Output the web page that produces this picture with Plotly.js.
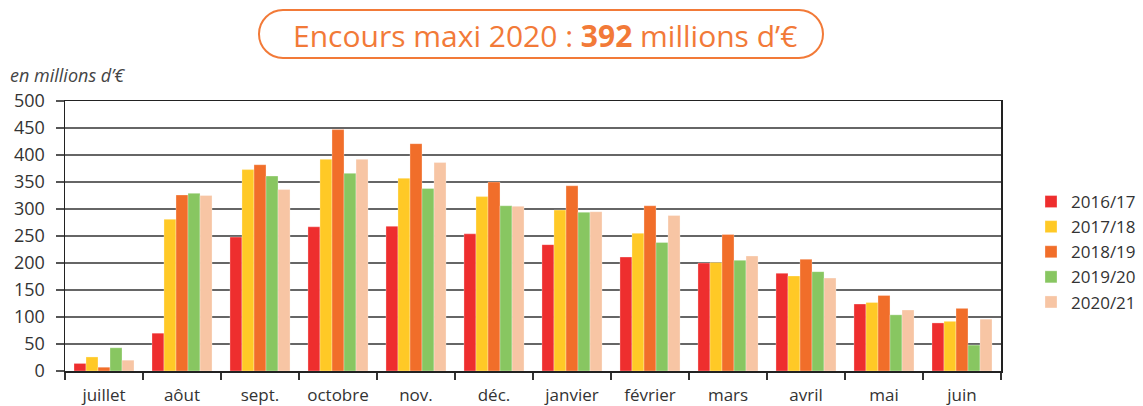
<!DOCTYPE html>
<html>
<head>
<meta charset="utf-8">
<script src="https://cdn.plot.ly/plotly-3.0.1.min.js"></script>
<style>
  html, body { margin: 0; padding: 0; background: #fff; }
  #chart { width: 1143px; height: 406px; }
</style>
</head>
<body>
<div id="chart"></div>
<script>
const months = ["juillet", "aôut", "sept.", "octobre", "nov.", "déc.", "janvier", "février", "mars", "avril", "mai", "juin"];
const seriesNames = ["2016/17", "2017/18", "2018/19", "2019/20", "2020/21"];
const s2016 = [14, 70, 248, 267, 268, 254, 234, 211, 200, 181, 124, 89];
const s2017 = [26, 281, 373, 392, 357, 323, 298, 255, 201, 176, 127, 92];
const s2018 = [7, 326, 382, 447, 421, 350, 343, 306, 253, 207, 140, 116];
const s2019 = [43, 329, 361, 366, 338, 306, 294, 238, 205, 184, 104, 48];
const s2020 = [20, 325, 336, 392, 386, 305, 295, 288, 213, 172, 113, 96];
const seriesValues = [s2016, s2017, s2018, s2019, s2020];
const seriesColors = ["#EE2E2E", "#FFC926", "#F16E2A", "#88C661", "#F7C5A4"];
const yTicks = [0, 50, 100, 150, 200, 250, 300, 350, 400, 450, 500];

const W = 1143, H = 406;
const M = {l: 65, r: 142, t: 101, b: 35, autoexpand: false};
const pw = W - M.l - M.r, ph = H - M.t - M.b;
const px = x => (x - M.l) / pw;
const py = y => (H - M.b - y) / ph;

const traces = seriesNames.map((name, i) => ({
  type: "bar",
  name: name,
  x: months,
  y: seriesValues[i],
  marker: {color: seriesColors[i], line: {color: "rgba(255,255,255,0.6)", width: 0.5}},
  hoverinfo: "x+y+name"
}));

// rounded title box
const bx0 = 259, bx1 = 823, by0 = 10, by1 = 58, r = 24, k = 0.552 * r;
function P(x, y) { return px(x).toFixed(5) + "," + py(y).toFixed(5); }
const boxPath =
  "M" + P(bx0 + r, by0) +
  " L" + P(bx1 - r, by0) +
  " C" + P(bx1 - r + k, by0) + " " + P(bx1, by0 + r - k) + " " + P(bx1, by0 + r) +
  " C" + P(bx1, by0 + r + k) + " " + P(bx1 - r + k, by1) + " " + P(bx1 - r, by1) +
  " L" + P(bx0 + r, by1) +
  " C" + P(bx0 + r - k, by1) + " " + P(bx0, by1 - r + k) + " " + P(bx0, by1 - r) +
  " C" + P(bx0, by1 - r - k) + " " + P(bx0 + r - k, by0) + " " + P(bx0 + r, by0) + " Z";

const font = "Open Sans, Noto Sans, sans-serif";

const layout = {
  width: W, height: H,
  margin: M,
  paper_bgcolor: "#fff",
  plot_bgcolor: "#fff",
  font: {family: font, color: "#333", size: 16},
  barmode: "group",
  bargap: 0.23,
  bargroupgap: 0,
  showlegend: true,
  legend: {
    x: px(1031), y: py(184), xanchor: "left", yanchor: "top",
    font: {family: font, size: 17, color: "#333"},
    tracegroupgap: 0, itemwidth: 30, traceorder: "normal",
    bgcolor: "rgba(0,0,0,0)"
  },
  xaxis: {
    type: "category",
    showgrid: false,
    showline: true, linecolor: "#222", linewidth: 1.5,
    mirror: true,
    ticks: "outside", tickson: "boundaries", ticklen: 7, tickcolor: "#333", tickwidth: 1.2,
    ticklabelstandoff: 8,
    tickfont: {family: font, size: 17, color: "#333"},
    fixedrange: true
  },
  yaxis: {
    range: [0, 500],
    tickvals: yTicks,
    ticktext: yTicks.map(String),
    showgrid: true, gridcolor: "#666", gridwidth: 1.5,
    showline: true, linecolor: "#222", linewidth: 1.5,
    mirror: true,
    zeroline: false,
    ticks: "outside", ticklen: 8, tickcolor: "#555", tickwidth: 1.5,
    ticklabelstandoff: 7,
    tickfont: {family: font, size: 18, color: "#333"},
    fixedrange: true
  },
  shapes: [{
    type: "path", xref: "paper", yref: "paper", path: boxPath,
    line: {color: "#F27A38", width: 2}, fillcolor: "rgba(0,0,0,0)"
  }],
  annotations: [
    {
      xref: "paper", yref: "paper", x: px((bx0 + bx1) / 2 + 4), y: py((by0 + by1) / 2 + 1),
      xanchor: "center", yanchor: "middle", showarrow: false,
      text: "Encours maxi 2020 : <b>392</b> millions d’€",
      font: {family: font, size: 30, color: "#F27A38"}
    },
    {
      xref: "paper", yref: "paper", x: px(8), y: py(75),
      xanchor: "left", yanchor: "middle", showarrow: false,
      text: "<i>en millions d’€</i>",
      font: {family: font, size: 18, color: "#444"}
    }
  ]
};

Plotly.newPlot("chart", traces, layout, {displayModeBar: false, staticPlot: true});
</script>
</body>
</html>
